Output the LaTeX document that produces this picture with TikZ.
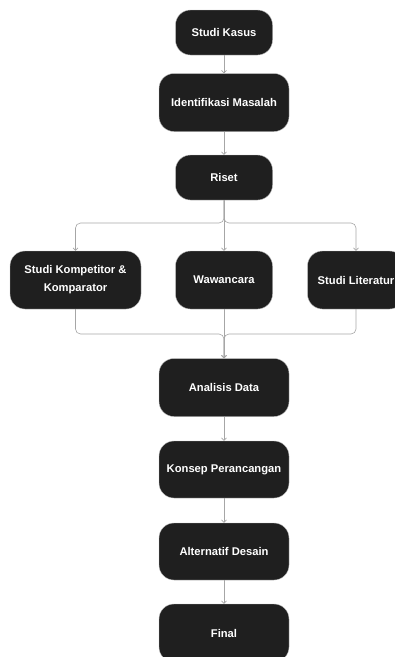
\documentclass[tikz,border=0pt]{standalone}
\usepackage{fontspec}
\setmainfont{Liberation Sans}
\usetikzlibrary{arrows.meta}
\tikzset{>=latex}
\tikzstyle{stage}=[rectangle,rounded corners=15pt,fill=black!88,draw=black!25,thin,
                   text=white,font=\fontsize{11.2}{18}\selectfont\bfseries,align=center,
                   inner sep=0pt,minimum height=45pt]
\tikzstyle{wide}=[minimum width=130pt,minimum height=58pt]
\tikzstyle{narrow}=[minimum width=97pt]
\tikzstyle{flow}=[-{Straight Barb[length=2.5pt,width=5pt]},black!35,line width=0.6pt]

\begin{document}
\begin{tikzpicture}[x=1pt,y=-1pt]

  \useasboundingbox (0,0) rectangle (395,657); % page size of the reference

  % main column
  \node[stage,narrow] (kasus) at (224,32.5) {Studi Kasus};
  \node[stage,wide] (identifikasi) at (224,102.5) {Identifikasi Masalah};
  \node[stage,narrow] (riset) at (224,177.5) {Riset};

  % three kinds of research
  \node[stage,wide,minimum width=131pt] (kompetitor) at (75.5,280) {Studi Kompetitor \&\\Komparator};
  \node[stage,narrow,minimum height=58pt] (wawancara) at (224,280) {Wawancara};
  \node[stage,narrow,minimum height=58pt] (literatur) at (356,280) {Studi Literatur};

  \node[stage,wide] (analisis) at (224,387.5) {Analisis Data};
  \node[stage,wide,minimum height=57pt] (konsep) at (224,469.5) {Konsep Perancangan};
  \node[stage,wide,minimum height=57pt] (alternatif) at (224,551.5) {Alternatif Desain};
  \node[stage,wide] (final) at (224,633) {Final};

  \coordinate (split) at (224,223);
  \coordinate (merge) at (224,334);

  \draw[flow] (kasus) -- (identifikasi);
  \draw[flow] (identifikasi) -- (riset);

  % split after riset
  \draw[flow] (riset) -- (wawancara);
  \draw[flow,rounded corners=5pt] (riset.south) -- (split) -| (kompetitor.north);
  \draw[flow,rounded corners=5pt] (riset.south) -- (split) -| (literatur.north);

  % join before analisis
  \draw[flow] (wawancara) -- (analisis);
  \draw[flow,rounded corners=5pt] (kompetitor.south) |- (merge) -- (analisis.north);
  \draw[flow,rounded corners=5pt] (literatur.south) |- (merge) -- (analisis.north);

  \draw[flow] (analisis) -- (konsep);
  \draw[flow] (konsep) -- (alternatif);
  \draw[flow] (alternatif) -- (final);

\end{tikzpicture}
\end{document}
